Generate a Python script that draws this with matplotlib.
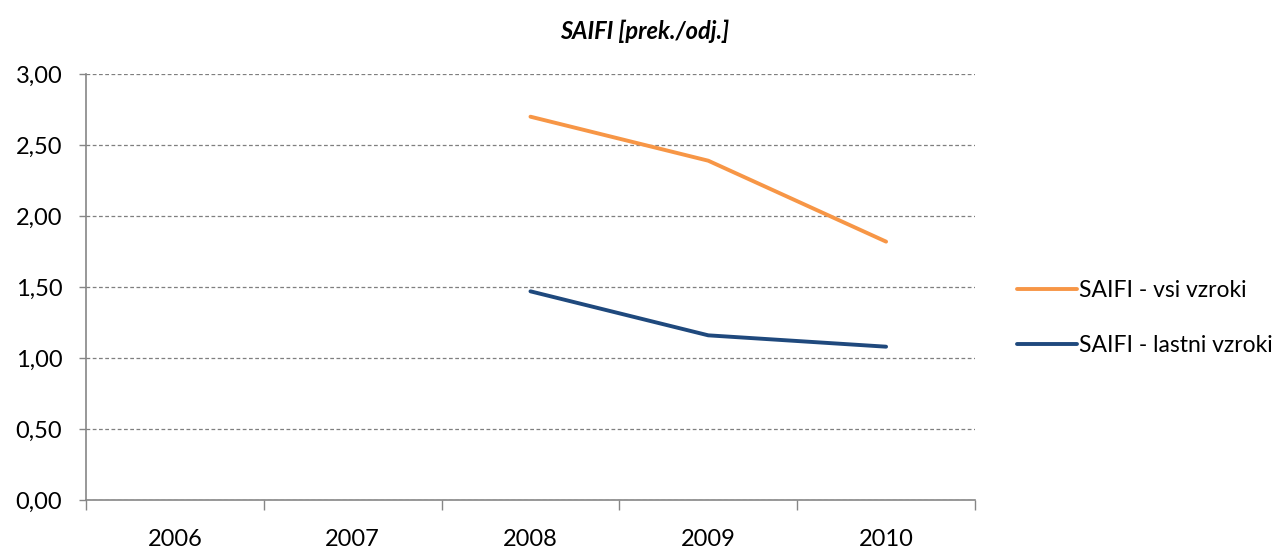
import matplotlib.pyplot as plt
import numpy as np

years = ['2006', '2007', '2008', '2009', '2010']
saifi_vsi = [np.nan, np.nan, 2.70, 2.39, 1.82]
saifi_lastni = [np.nan, np.nan, 1.47, 1.16, 1.08]
y_ticks = [0.0, 0.5, 1.0, 1.5, 2.0, 2.5, 3.0]

plt.rcParams['font.family'] = ['Lato', 'DejaVu Sans']

fig = plt.figure(figsize=(12.79, 5.53), dpi=100)
ax = fig.add_axes([0.0672, 0.0958, 0.6951, 0.7702])

x = np.arange(len(years))
ax.plot(x, saifi_vsi, color='#F79646', lw=2.8, label='SAIFI - vsi vzroki', solid_capstyle='round')
ax.plot(x, saifi_lastni, color='#1F497D', lw=2.8, label='SAIFI - lastni vzroki', solid_capstyle='round')

ax.set_xlim(-0.5, len(years) - 0.5)
ax.set_ylim(0, 3)
ax.set_yticks(y_ticks)
ax.set_yticklabels([f'{v:.2f}'.replace('.', ',') for v in y_ticks], fontsize=17)
ax.yaxis.grid(True, linestyle=(0, (3, 2)), color='#7f7f7f', lw=0.9)
ax.set_axisbelow(True)

# category boundaries as ticks, labels centered
ax.set_xticks(np.arange(-0.5, len(years)), labels=[])
ax.set_xticks(x, labels=years, minor=True, fontsize=17)
ax.tick_params(axis='x', which='major', length=7, color='#868686', width=1)
ax.tick_params(axis='x', which='minor', length=0, pad=21)
ax.tick_params(axis='y', length=5, color='#868686', width=1, pad=12)

for s in ['top', 'right']:
    ax.spines[s].set_visible(False)
for s in ['left', 'bottom']:
    ax.spines[s].set_color('#868686')
    ax.spines[s].set_linewidth(1.2)

fig.text(645 / 1279, 1 - 31 / 553, 'SAIFI [prek./odj.]', fontsize=17, fontweight='bold',
         style='italic', ha='center', va='center')

fig.legend(loc='center left', bbox_to_anchor=(0.779, 0.425), frameon=False, fontsize=16.5,
           handlelength=2.6, handletextpad=0.1, labelspacing=1.45)

fig.savefig('out.png', dpi=100)
